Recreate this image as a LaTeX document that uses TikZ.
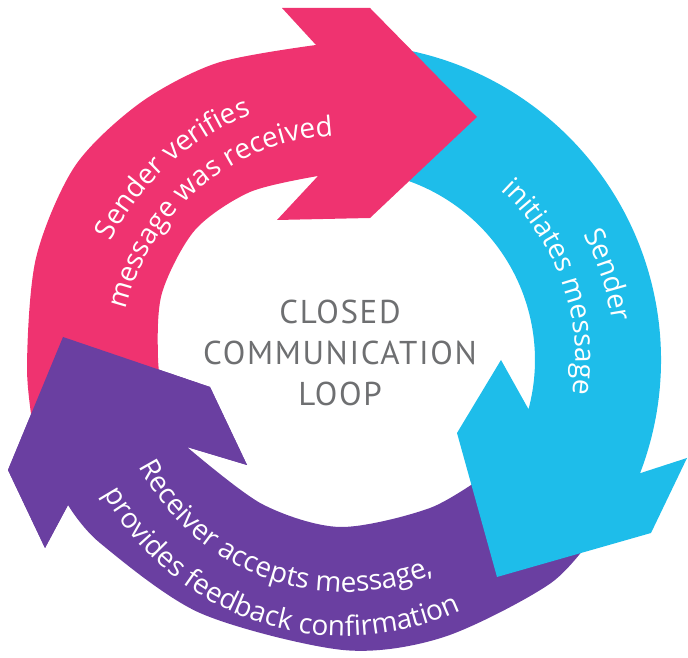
\documentclass[tikz,border=0pt]{standalone}
\usepackage{fontspec}
\usetikzlibrary{decorations.text}
\newfontfamily\arrowfam{Open Sans}
\newfontfamily\loopfam[LetterSpace=5]{PT Sans}
\definecolor{loopPink}{HTML}{EF3370}
\definecolor{loopCyan}{HTML}{1EBDEA}
\definecolor{loopPurple}{HTML}{6A3FA1}
\definecolor{loopGrey}{HTML}{6E6F71}
\newcommand\arrowtxt{\arrowfam\fontsize{28}{32}\selectfont\color{white}}
\tikzset{
  curvedtext/.style={decorate, decoration={text along path, text={|\arrowtxt|#1}, text align=center}}
}
\begin{document}
\begin{tikzpicture}[x=1pt, y=1pt, line join=round]
	\useasboundingbox (0,0) rectangle (688,658);
	% receiver arrow
	\fill[loopPurple] plot[smooth] coordinates {(600,131) (551,75) (444,21) (343,8) (200,45) (100,115) (68,153)} -- (45,110) -- (8,188) -- (63,321) -- (210,271) -- (247,193) -- plot[smooth] coordinates {(187,211) (262,154) (340,131) (430,150) (490,186)} -- cycle;
	% sender initiates
	\fill[loopCyan] (399.9,609.2) arc[start angle=80, end angle=-21, radius=316] -- (687,200) -- (651,125) -- (497,81) -- (457,225) -- (501,298) -- (528.5,248.8) arc[start angle=-15, end angle=78, radius=190] -- (384,484) -- cycle;
	% sender verifies
	\fill[loopPink] plot[smooth] coordinates {(35,218) (27,290) (36,400) (75,492) (140,555) (217,595) (316,613)} -- (282,650) -- (370,650) -- (477,541) -- (370,440) -- (277,438) -- plot[smooth] coordinates {(318,482) (250,466) (195,428) (162,365) (158,300) (165,238)} -- cycle;
	% head of the receiver arrow on top of the pink tail
	\fill[loopPurple] (187,211) -- (247,193) -- (210,271) -- (63,321) -- (8,188) -- (45,110) -- (68,153) -- cycle;
	% labels
	\path[curvedtext={Sender verifies}, shift={(345,298)}] (192:262.5) arc[start angle=192, end angle=72, radius=262.5];
	\path[curvedtext={message was received}, shift={(345,298)}] (190:224.5) arc[start angle=190, end angle=70, radius=224.5];
	\path[curvedtext={Sender}, shift={(345,298)}] (78:269.5) arc[start angle=78, end angle=-42, radius=269.5];
	\path[curvedtext={initiates message}, shift={(345,298)}] (79.5:230.5) arc[start angle=79.5, end angle=-40.5, radius=230.5];
	\path[curvedtext={Receiver accepts message,}, shift={(345,298)}] (190:232) arc[start angle=190, end angle=310, radius=232];
	\path[curvedtext={provides feedback confirmation}, shift={(345,298)}] (192:276) arc[start angle=192, end angle=312, radius=276];
	\node[font={\loopfam\fontsize{33}{41}\selectfont}, text=loopGrey, align=center] (title) at (340,305) {CLOSED\\COMMUNICATION\\LOOP};
\end{tikzpicture}
\end{document}
